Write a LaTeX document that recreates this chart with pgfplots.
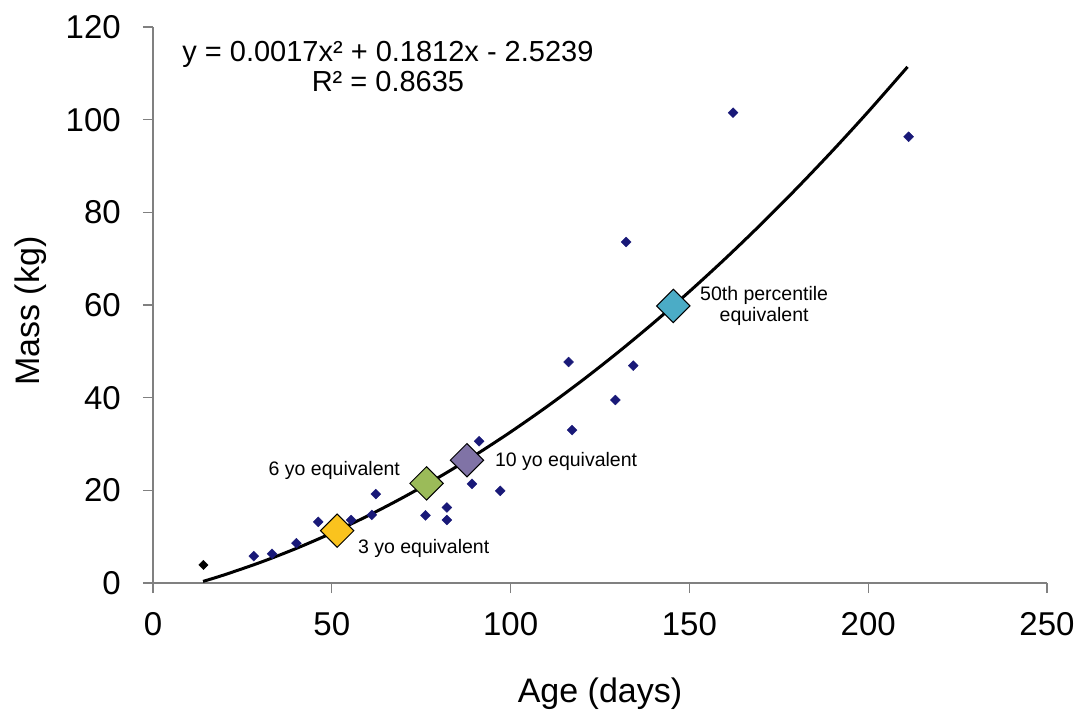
\documentclass[border=0pt]{standalone}
\usepackage{fontspec}
\setmainfont{Liberation Sans}
\usepackage{pgfplots}
\pgfplotsset{compat=1.18}
\definecolor{navypt}{RGB}{25,25,120}
\definecolor{gold}{RGB}{250,195,30}
\definecolor{olive}{RGB}{155,187,89}
\definecolor{purp}{RGB}{128,115,166}
\definecolor{teal}{RGB}{75,172,198}
\begin{document}
\begin{tikzpicture}
\path[use as bounding box] (-153pt,-130pt) rectangle (930pt,583pt);
\begin{axis}[
  at={(0,0)}, anchor=south west,
  scale only axis, width=894pt, height=556pt,
  xmin=0, xmax=250, ymin=0, ymax=120,
  enlargelimits=false, clip=false,
  axis lines=left,
  axis line style={-, draw=gray, line width=1.2pt},
  xtick={0,50,100,150,200,250},
  ytick={0,20,40,60,80,100,120},
  tick align=outside,
  major tick length=10pt,
  tick style={draw=gray, line width=1.2pt},
  /pgf/number format/assume math mode=true,
  ticklabel style={font=\fontsize{33}{38}\selectfont},
  yticklabel style={anchor=east, inner sep=0pt, xshift=-22pt},
  xticklabel style={anchor=north, inner sep=0pt, yshift=-19pt},
  xlabel={Age (days)}, ylabel={Mass (kg)},
  label style={font=\fontsize{34}{40}\selectfont},
  xlabel style={at={(axis description cs:0.5,-0.2)}, anchor=center},
  ylabel style={at={(axis description cs:-0.1365,0.489)}, anchor=center, rotate=0},
]
% data points
\addplot[only marks, mark=square*, mark size=3.5pt, color=navypt, mark options={rotate=45}] coordinates {
 (28.2,5.8) (33.3,6.3) (40.1,8.6) (46.2,13.2) (55.4,13.6) (61.2,14.7) (62.3,19.2)
 (76.2,14.6) (82.2,16.3) (82.2,13.6) (89.2,21.4) (91.2,30.6) (97.1,19.9)
 (116.2,47.7) (117.2,33.0) (129.3,39.5) (132.3,73.6) (134.3,46.9) (162.2,101.5) (211.3,96.3)
};
\addplot[only marks, mark=square*, mark size=3.3pt, color=black, mark options={rotate=45}] coordinates {(14.1,3.9)};
% equivalent markers
\addplot[only marks, mark=square*, mark size=11.8pt, mark options={rotate=45, fill=gold, draw=black, line width=1pt}] coordinates {(51.5,11.3)};
\addplot[only marks, mark=square*, mark size=11.8pt, mark options={rotate=45, fill=olive, draw=black, line width=1pt}] coordinates {(76.5,21.5)};
\addplot[only marks, mark=square*, mark size=11.8pt, mark options={rotate=45, fill=purp, draw=black, line width=1pt}] coordinates {(87.8,26.5)};
\addplot[only marks, mark=square*, mark size=11.8pt, mark options={rotate=45, fill=teal, draw=black, line width=1pt}] coordinates {(145.5,59.8)};
% trend line
\addplot[black, line width=3pt, smooth, no marks] coordinates {
 (14,0.346) (20,1.780) (30,4.442) (40,7.444) (50,10.786) (60,14.468) (70,18.490)
 (80,22.852) (90,27.554) (100,32.596) (110,37.978) (120,43.700) (130,49.762)
 (140,56.164) (150,62.906) (160,69.988) (170,77.410) (180,85.172) (190,93.274)
 (200,101.716) (211,111.395)
};
\node[align=center, font=\fontsize{29}{30}\selectfont, inner sep=0pt] at (axis cs:65.7,111.4) {y = 0.0017x² + 0.1812x - 2.5239\\R² = 0.8635};
\node[anchor=west, font=\fontsize{19.5}{21}\selectfont, inner sep=0pt] at (axis cs:57.3,7.5) {3 yo equivalent};
\node[anchor=east, font=\fontsize{19.5}{21}\selectfont, inner sep=0pt] at (axis cs:69.1,24.2) {6 yo equivalent};
\node[anchor=west, font=\fontsize{19.5}{21}\selectfont, inner sep=0pt] at (axis cs:95.6,26.3) {10 yo equivalent};
\node[align=center, font=\fontsize{19.5}{21}\selectfont, inner sep=0pt] at (axis cs:170.9,59.7) {50th percentile\\equivalent};
\end{axis}
\end{tikzpicture}
\end{document}
